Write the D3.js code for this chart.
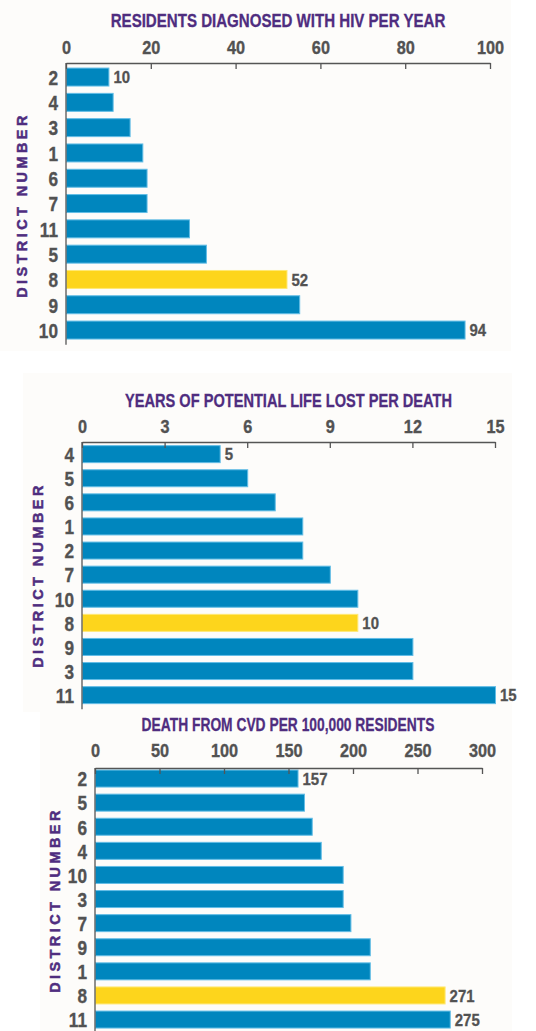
<!DOCTYPE html>
<html>
<head>
<meta charset="utf-8">
<script src="https://cdn.jsdelivr.net/npm/d3@7"></script>
<style>
  html, body { margin: 0; padding: 0; background: #ffffff; }
  svg { display: block; }
  text { font-family: "Liberation Sans", Arial, Helvetica, sans-serif; font-weight: bold; }
</style>
</head>
<body>
<svg id="chart" width="536" height="1031"></svg>
<script>
// --- Data -------------------------------------------------------------
const hivDistricts = ["2", "4", "3", "1", "6", "7", "11", "5", "8", "9", "10"];
const hivValues    = [10, 11, 15, 18, 19, 19, 29, 33, 52, 55, 94];
const hivTicks     = [0, 20, 40, 60, 80, 100];
const hivLabelled  = ["2", "8", "10"];

const ypllDistricts = ["4", "5", "6", "1", "2", "7", "10", "8", "9", "3", "11"];
const ypllValues    = [5, 6, 7, 8, 8, 9, 10, 10, 12, 12, 15];
const ypllTicks     = [0, 3, 6, 9, 12, 15];
const ypllLabelled  = ["4", "8", "11"];

const cvdDistricts = ["2", "5", "6", "4", "10", "3", "7", "9", "1", "8", "11"];
const cvdValues    = [157, 162, 168, 175, 192, 192, 198, 213, 213, 271, 275];
const cvdTicks     = [0, 50, 100, 150, 200, 250, 300];
const cvdLabelled  = ["2", "8", "11"];

const highlightDistrict = "8";
const yAxisTitle = "DISTRICT NUMBER";

// --- Styling ----------------------------------------------------------
const BLUE = "#0086be", BLUE_EDGE = "#62bde6";
const YELLOW = "#fdd51c", YELLOW_EDGE = "#ffe873";
const PURPLE = "#4f2d7f", GREY = "#525252", AXIS = "#555555";

const svg = d3.select("#chart");

function drawPanel(cfg) {
  const g = svg.append("g");

  // faint paper panel behind the chart
  g.append("rect")
    .attr("x", cfg.panel[0]).attr("y", cfg.panel[1])
    .attr("width", cfg.panel[2]).attr("height", cfg.panel[3])
    .attr("fill", "#fdfcfa");

  const x = d3.scaleLinear().domain([0, cfg.max]).range([cfg.x0, cfg.x1]);
  const y = d3.scaleBand().domain(cfg.districts)
    .range([cfg.yTop, cfg.yBottom]).paddingInner(cfg.pad).paddingOuter(cfg.pad / 2);

  const rows = cfg.districts.map((d, i) => ({ district: d, value: cfg.values[i] }));

  // bars
  g.selectAll("rect.bar").data(rows).enter().append("rect")
    .attr("class", "bar")
    .attr("x", x(0) + 0.5)
    .attr("y", d => y(d.district))
    .attr("width", d => x(d.value) - x(0))
    .attr("height", y.bandwidth())
    .attr("fill", d => d.district === highlightDistrict ? YELLOW : BLUE)
    .attr("stroke", d => d.district === highlightDistrict ? YELLOW_EDGE : BLUE_EDGE)
    .attr("stroke-width", 1);

  // top value axis, ticks pointing down into the plot
  const ax = g.append("g")
    .attr("transform", `translate(0,${cfg.axisY})`)
    .call(d3.axisTop(x).tickValues(cfg.ticks).tickSizeInner(-6).tickSizeOuter(0).tickPadding(cfg.tickPad));
  ax.select(".domain").attr("stroke", AXIS).attr("stroke-width", 1.3);
  ax.selectAll(".tick line").attr("stroke", AXIS).attr("stroke-width", 1.3);
  ax.selectAll(".tick text")
    .attr("fill", GREY)
    .attr("stroke", GREY).attr("stroke-width", 0.35)
    .attr("font-family", null).attr("font-size", null)
    .style("font-size", "18.5px")
    .attr("transform", "scale(0.88,1)");

  // left category axis line
  g.append("line")
    .attr("x1", x(0)).attr("x2", x(0))
    .attr("y1", cfg.axisY).attr("y2", cfg.yBottom + 2)
    .attr("stroke", AXIS).attr("stroke-width", 1.3);

  g.selectAll("text.cat").data(rows).enter().append("text")
    .attr("class", "cat")
    .attr("transform", d => `translate(${x(0) - 8},${y(d.district) + y.bandwidth() / 2}) scale(0.82,1)`)
    .attr("dy", "0.37em")
    .attr("text-anchor", "end")
    .attr("fill", GREY)
    .attr("stroke", GREY).attr("stroke-width", 0.35)
    .style("font-size", "21px")
    .text(d => d.district);

  // value labels on selected bars
  g.selectAll("text.val").data(rows.filter(r => cfg.labelled.includes(r.district))).enter().append("text")
    .attr("class", "val")
    .attr("transform", d => `translate(${x(d.value) + 5},${y(d.district) + y.bandwidth() / 2}) scale(0.88,1)`)
    .attr("dy", "0.36em")
    .attr("fill", GREY)
    .attr("stroke", GREY).attr("stroke-width", 0.3)
    .style("font-size", "17px")
    .text(d => d.value);

  // chart title, condensed horizontally to its set width
  const title = g.append("text")
    .attr("text-anchor", "middle")
    .attr("fill", PURPLE)
    .attr("stroke", PURPLE).attr("stroke-width", 0.3)
    .style("font-size", "18.5px")
    .text(cfg.title);
  const natural = title.node().getComputedTextLength();
  title.attr("transform", `translate(${cfg.titleX},${cfg.titleY}) scale(${cfg.titleW / natural},1)`);

  // rotated category title
  g.append("text")
    .attr("transform", `translate(${cfg.yTitleX},${cfg.yTitleY}) rotate(-90)`)
    .attr("text-anchor", "middle")
    .attr("dy", "0.36em")
    .attr("fill", PURPLE)
    .attr("stroke", PURPLE)
    .attr("stroke-width", 0.5)
    .style("font-size", "14.5px")
    .style("letter-spacing", "3.4px")
    .text(yAxisTitle);
}

drawPanel({
  title: "RESIDENTS DIAGNOSED WITH HIV PER YEAR",
  districts: hivDistricts, values: hivValues, ticks: hivTicks, labelled: hivLabelled,
  max: 100, x0: 66, x1: 490, axisY: 63, yTop: 64.4, yBottom: 342.7, pad: 0.29, tickPad: 9,
  titleX: 278, titleY: 26.5, titleW: 335, yTitleX: 22, yTitleY: 205,
  panel: [0, 0, 511, 351]
});

drawPanel({
  title: "YEARS OF POTENTIAL LIFE LOST PER DEATH",
  districts: ypllDistricts, values: ypllValues, ticks: ypllTicks, labelled: ypllLabelled,
  max: 15, x0: 82, x1: 495, axisY: 442, yTop: 442.1, yBottom: 707.2, pad: 0.295, tickPad: 9,
  titleX: 288.5, titleY: 406.5, titleW: 327, yTitleX: 38, yTitleY: 575,
  panel: [23, 373, 489, 339]
});

drawPanel({
  title: "DEATH FROM CVD PER 100,000 RESIDENTS",
  districts: cvdDistricts, values: cvdValues, ticks: cvdTicks, labelled: cvdLabelled,
  max: 300, x0: 95, x1: 482, axisY: 768, yTop: 766.5, yBottom: 1031.6, pad: 0.295, tickPad: 11,
  titleX: 288, titleY: 730.5, titleW: 293, yTitleX: 55, yTitleY: 900,
  panel: [40, 712, 472, 319]
});
</script>
</body>
</html>
